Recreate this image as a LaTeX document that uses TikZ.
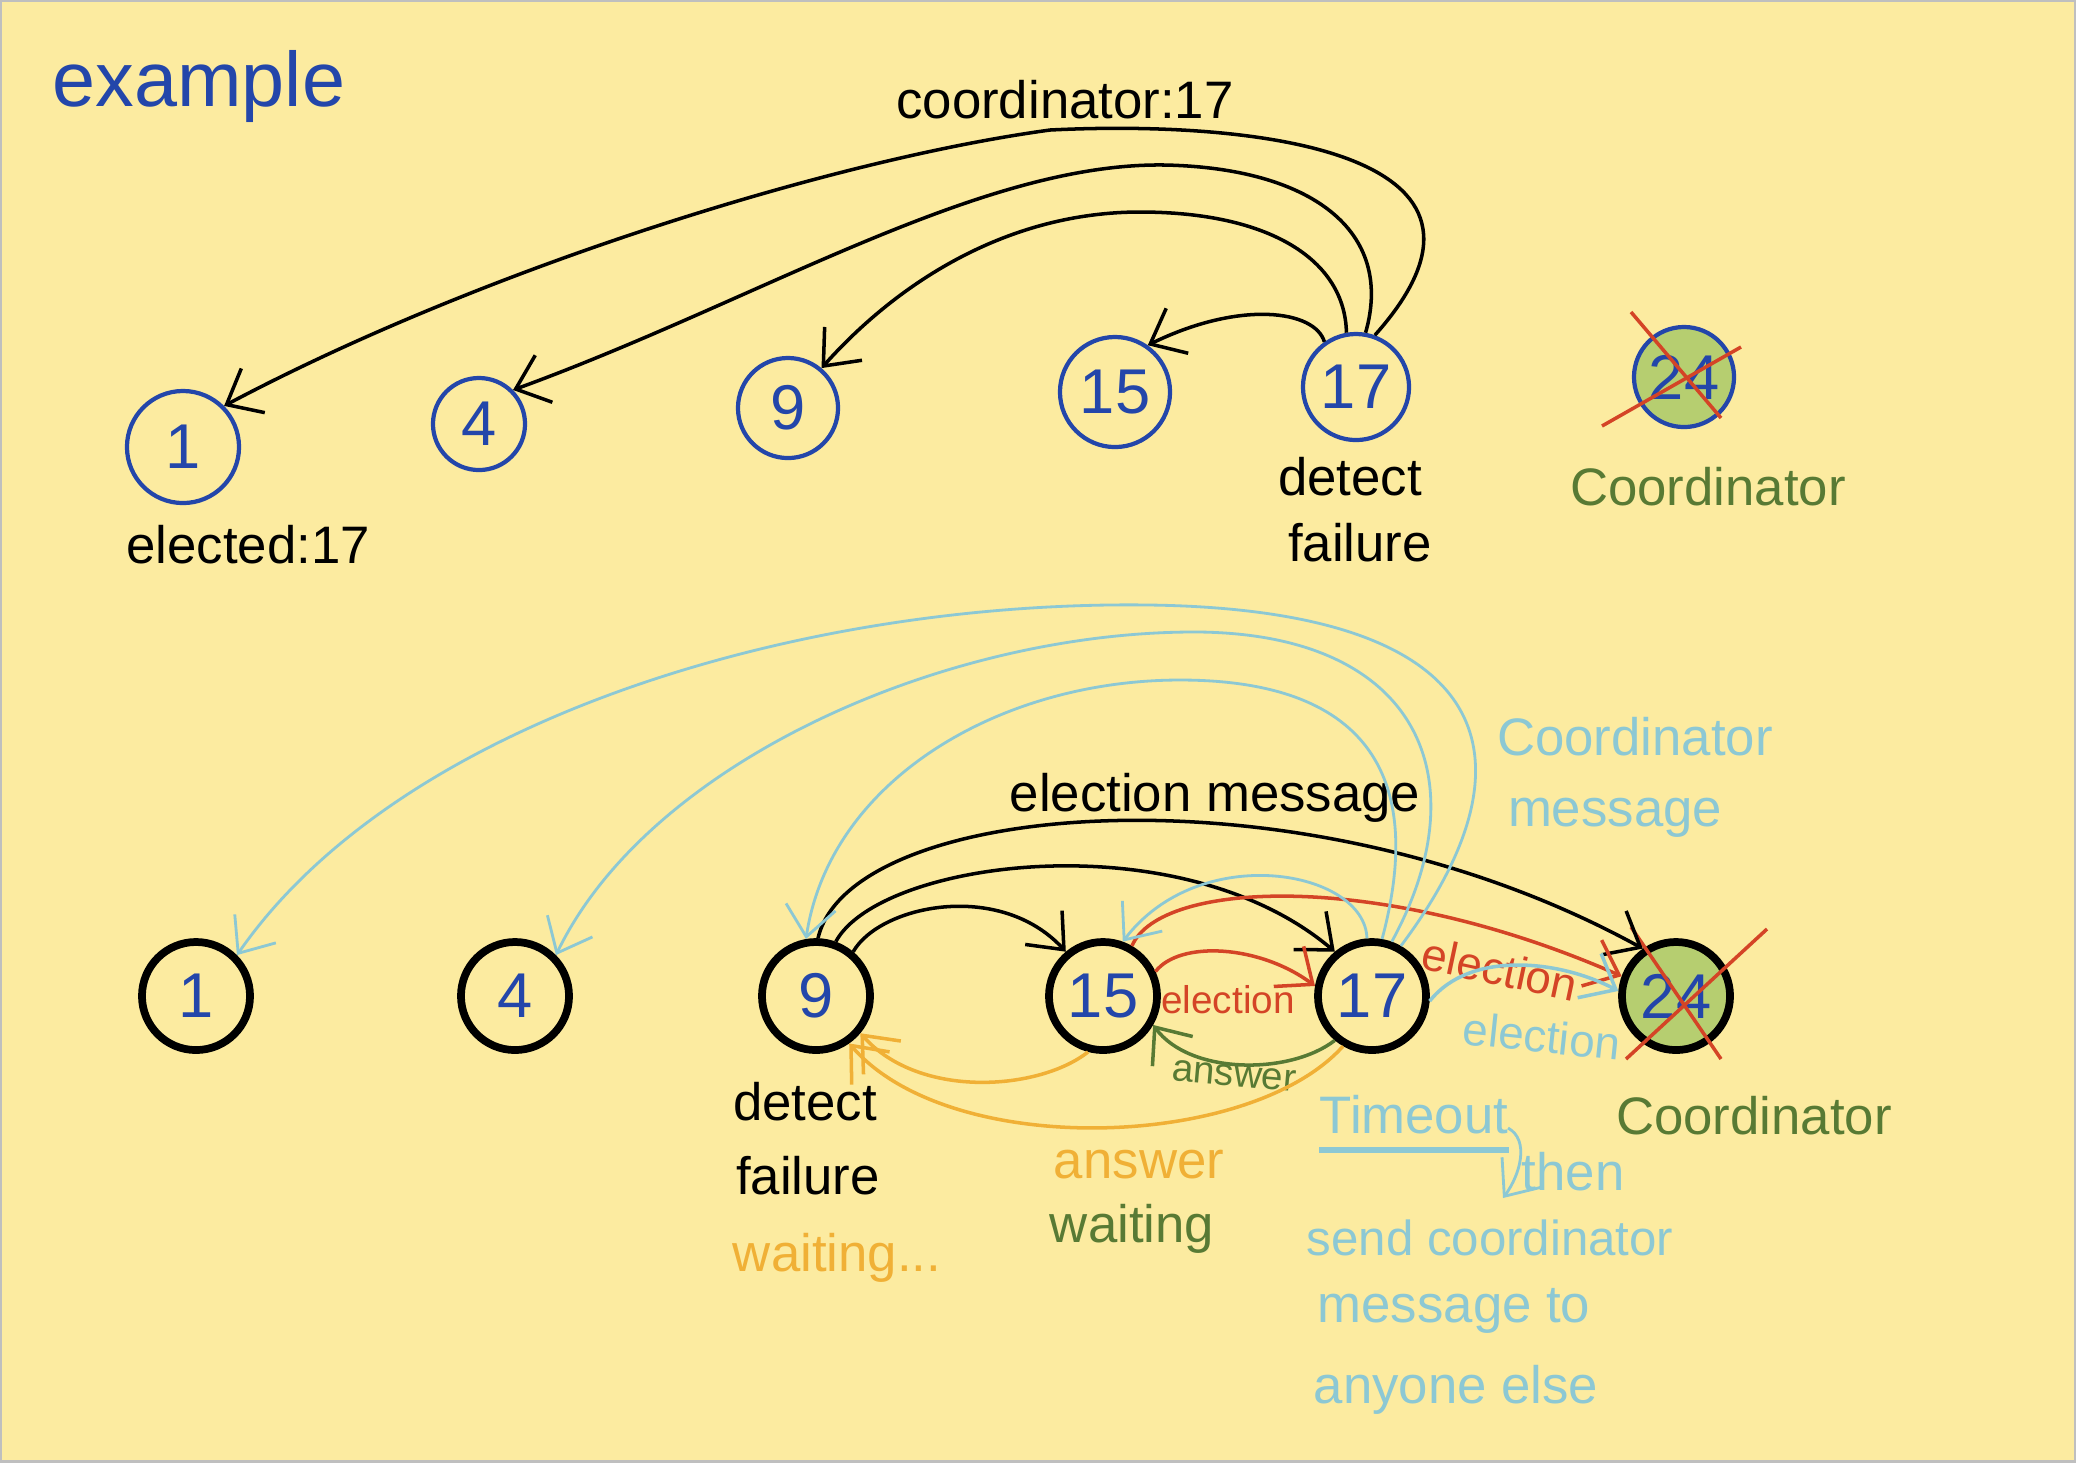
\documentclass[tikz,border=0pt]{standalone}
\usepackage{fontspec}
\setmainfont{Liberation Sans}
\usepackage{tikz}
\usetikzlibrary{arrows.meta, positioning}

\definecolor{paper}{RGB}{252,235,160}
\definecolor{ink}{RGB}{35,70,170}
\definecolor{sky}{RGB}{140,200,212}
\definecolor{fire}{RGB}{212,68,38}
\definecolor{leaf}{RGB}{88,122,52}
\definecolor{moss}{RGB}{182,206,112}
\definecolor{amber}{RGB}{240,176,54}

\begin{document}
\begin{tikzpicture}[x=0.01cm, y=-0.01cm, >={Straight Barb[length=3mm,width=5mm]},
  txt/.style={font=\fontsize{15}{18}\selectfont, inner sep=0pt},
  small/.style={font=\fontsize{11}{13}\selectfont, inner sep=0pt},
  oldproc/.style={circle, draw=ink, line width=1.2pt, minimum size=1.0cm, inner sep=0pt,
    text=ink, font=\fontsize{18}{22}\selectfont},
  proc/.style={circle, draw, line width=2.2pt, minimum size=1.08cm, inner sep=0pt,
    text=ink, font=\fontsize{18}{22}\selectfont},
  wire/.style={->, line width=1pt}]
  \useasboundingbox (0,0) rectangle (2076,1462);
  \fill[paper] (0,0) rectangle (2076,1462);
  \draw[gray!50, line width=1pt] (0,0) rectangle (2076,1462);

  % Titel
  \node[txt, text=ink, font=\fontsize{22}{26}\selectfont] (ex) at (199,86) {example};

  % Ablauf 1: 17 meldet sich als Koordinator
  \node[oldproc, minimum size=1.12cm] (A1) at (183,447) {1};
  \node[oldproc, minimum size=0.92cm] (A4) at (479,424) {4};
  \node[oldproc] (A9) at (788,408) {9};
  \node[oldproc, minimum size=1.1cm] (A15) at (1115,392) {15};
  \node[oldproc, minimum size=1.06cm] (A17) at (1356,387) {17};
  \node[oldproc, fill=moss] (A24) at (1684,377) {24};

  \draw[fire, line width=1pt] ([shift={(-53,-65)}]A24.center) -- ([shift={(37,41)}]A24.center);
  \draw[fire, line width=1pt] ([shift={(57,-30)}]A24.center) -- ([shift={(-82,49)}]A24.center);

  \draw[wire] (A17.70) .. controls (1540,150) and (1250,120) .. (1050,130)
    .. controls (830,160) and (480,270) .. (A1.45);
  \draw[wire] (A17.80) .. controls (1395,230) and (1310,168) .. (1165,165)
    .. controls (980,162) and (760,300) .. (A4.45);
  \draw[wire] (A17.100) .. controls (1345,260) and (1270,212) .. (1140,212)
    .. controls (1010,212) and (900,280) .. (A9.50);
  \draw[wire] (A17.125) .. controls (1315,310) and (1240,300) .. (A15.55);

  \node[txt] (c17) at (1065,100) {coordinator:17};
  \node[txt] (el) at (248,545) {elected:17};
  \node[txt] (df1) at (1350,477) {detect};
  \node[txt] (df2) at (1360,543) {failure};
  \node[txt, text=leaf] (co1) at (1708,487) {Coordinator};

  % Ablauf 2: Wahl mit Antworten
  \node[proc] (B1) at (196,996) {1};
  \node[proc] (B4) at (515,996) {4};
  \node[proc] (B9) at (816,996) {9};
  \node[proc] (B15) at (1103,996) {15};
  \node[proc] (B17) at (1372,996) {17};
  \node[proc, fill=moss] (B24) at (1676,996) {24};

  \draw[fire, line width=1pt] ([shift={(-45,-69)}]B24.center) -- ([shift={(45,63)}]B24.center);
  \draw[fire, line width=1pt] ([shift={(91,-67)}]B24.center) -- ([shift={(-50,63)}]B24.center);

  % election message
  \draw[wire] (B9.50) .. controls (880,905) and (1000,880) .. (B15.130);
  \draw[wire] (B9.70) .. controls (880,860) and (1180,820) .. (B17.130);
  \draw[wire] (B9.88) .. controls (850,800) and (1300,760) .. (B24.125);
  \node[txt] (em) at (1215,798) {election message};

  \draw[wire, fire] (B15.25) .. controls (1180,940) and (1260,945) .. (B17.170);
  \draw[wire, fire] (B15.60) .. controls (1160,880) and (1380,870) .. (B24.160);
  \node[small, text=fire] (e1) at (1228,1000) {election};
  \node[txt, text=fire, rotate=-12, font=\fontsize{13}{15}\selectfont] (e2) at (1500,969) {election};

  \draw[wire, sky] (B17.-5) .. controls (1470,950) and (1560,960) .. (B24.175);
  \node[txt, text=sky, rotate=-6, font=\fontsize{13}{15}\selectfont] (e3) at (1542,1036) {election};

  \draw[wire, leaf] (B17.-130) .. controls (1290,1075) and (1190,1075) .. (B15.-30);
  \node[small, text=leaf, rotate=-5] (an) at (1234,1076) {answer};

  \draw[wire, amber] (B15.-105) .. controls (1040,1090) and (920,1100) .. (B9.-40);
  \draw[wire, amber] (B17.-120) .. controls (1250,1150) and (950,1160) .. (B9.-55);

  % coordinator message
  \draw[wire, sky, line width=0.8pt] (B17.60) .. controls (1540,760) and (1500,610) .. (1150,605)
    .. controls (800,600) and (400,720) .. (B1.45);
  \draw[wire, sky, line width=0.8pt] (B17.70) .. controls (1480,780) and (1420,635) .. (1200,632)
    .. controls (950,630) and (650,760) .. (B4.45);
  \draw[wire, sky, line width=0.8pt] (B17.80) .. controls (1430,760) and (1350,680) .. (1180,680)
    .. controls (1000,680) and (830,780) .. (B9.100);
  \draw[wire, sky, line width=0.8pt] (B17.95) .. controls (1365,870) and (1200,840) .. (B15.70);
  \node[txt, text=sky] (cm1) at (1635,737) {Coordinator};
  \node[txt, text=sky] (cm2) at (1615,818) {message};

  % Notizen
  \node[txt] (d1) at (805,1102) {detect};
  \node[txt] (d2) at (808,1176) {failure};
  \node[txt, text=amber] (w1) at (837,1258) {waiting...};
  \node[txt, text=amber] (aw) at (1139,1165) {answer};
  \node[txt, text=leaf] (w2) at (1132,1229) {waiting};
  \node[txt, text=leaf] (co2) at (1754,1116) {Coordinator};

  \node[txt, text=sky] (TO) at (1414,1115) {Timeout};
  \draw[sky, line width=1.5pt] ([yshift=-1.5mm]TO.south west) -- ([yshift=-1.5mm]TO.south east);
  \coordinate (h1) at (1508,1128);
  \coordinate (h2) at (1503,1198);
  \draw[sky, ->, line width=0.8pt] (h1) .. controls (1530,1140) and (1520,1175) .. (h2);
  \node[txt, text=sky] (th) at (1573,1172) {then};
  \node[txt, text=sky, font=\fontsize{14}{17}\selectfont] (s1) at (1490,1238) {send coordinator};
  \node[txt, text=sky] (s2) at (1454,1311) {message to};
  \node[txt, text=sky] (s3) at (1456,1390) {anyone else};
\end{tikzpicture}
\end{document}
